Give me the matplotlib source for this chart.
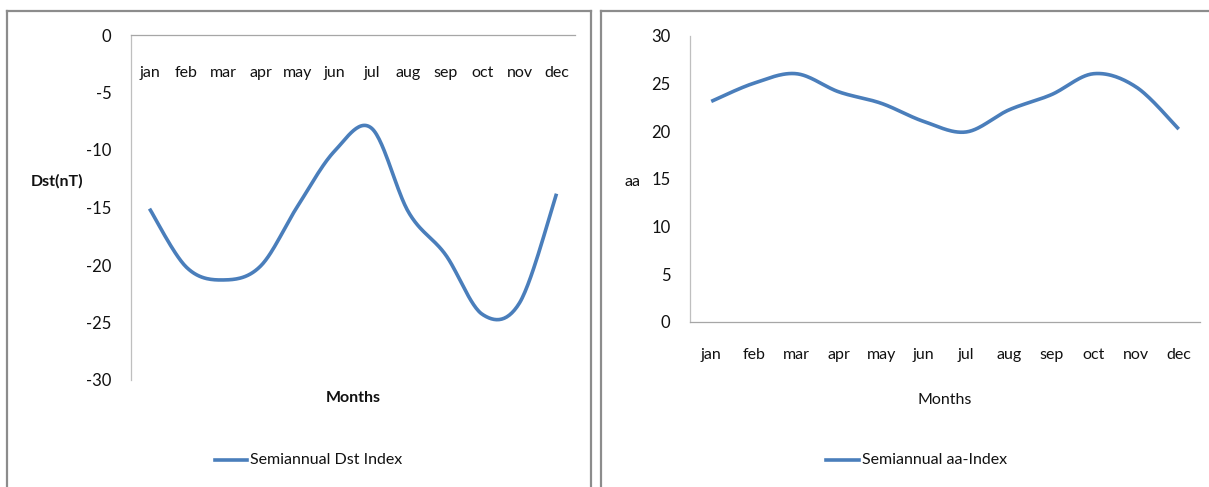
import numpy as np
import matplotlib
matplotlib.use("Agg")
import matplotlib.pyplot as plt
from matplotlib.lines import Line2D

plt.rcParams['font.family'] = ['Lato', 'DejaVu Sans']

months = ["jan", "feb", "mar", "apr", "may", "jun", "jul", "aug", "sep", "oct", "nov", "dec"]
dst_values = [-15.1, -20.2, -21.3, -20.1, -14.9, -10.1, -8.1, -15.4, -19.1, -24.3, -23.3, -13.8]
aa_values = [23.1, 25.0, 26.0, 24.1, 22.9, 21.0, 19.9, 22.2, 23.8, 26.0, 24.6, 20.2]

dst_ticks = [0, -5, -10, -15, -20, -25, -30]
aa_ticks = [0, 5, 10, 15, 20, 25, 30]

LINE_COLOR = "#4a7ebb"
AXIS_COLOR = "#a6a6a6"
FRAME_COLOR = "#8c8c8c"
TEXT_COLOR = "#111111"
FS = 11.5
W, H = 1209, 487


def smooth(xs, ys, n=30):
    """Cubic Bezier smoothing through every point (spreadsheet-style smooth line)."""
    xs = np.asarray(xs, float)
    ys = np.asarray(ys, float)
    px = np.concatenate([[xs[0]], xs, [xs[-1]]])
    py = np.concatenate([[ys[0]], ys, [ys[-1]]])
    out_x, out_y = [], []
    t = np.linspace(0, 1, n)
    for i in range(1, len(px) - 2):
        p0 = np.array([px[i], py[i]])
        p3 = np.array([px[i + 1], py[i + 1]])
        c1 = p0 + (np.array([px[i + 1], py[i + 1]]) - np.array([px[i - 1], py[i - 1]])) / 6
        c2 = p3 - (np.array([px[i + 2], py[i + 2]]) - np.array([px[i], py[i]])) / 6
        b = ((1 - t) ** 3)[:, None] * p0 + (3 * (1 - t) ** 2 * t)[:, None] * c1 \
            + (3 * (1 - t) * t ** 2)[:, None] * c2 + (t ** 3)[:, None] * p3
        out_x.extend(b[:, 0])
        out_y.extend(b[:, 1])
    return np.array(out_x), np.array(out_y)


def fx(px):
    return px / W


def fy(py):
    return 1 - py / H


fig = plt.figure(figsize=(W / 100, H / 100), dpi=100)
fig.patch.set_facecolor("white")

# panel frames
for x0, x1 in [(7, 591), (601, 1212)]:
    fig.add_artist(Line2D([fx(x0), fx(x0)], [fy(11), fy(490)], color=FRAME_COLOR, lw=1.6))
    fig.add_artist(Line2D([fx(x0), fx(x1)], [fy(11), fy(11)], color=FRAME_COLOR, lw=1.6))
    fig.add_artist(Line2D([fx(x1), fx(x1)], [fy(11), fy(490)], color=FRAME_COLOR, lw=1.6))

xpos = np.arange(len(months)) + 0.5

# ---- Dst panel ----
ax1 = fig.add_axes([fx(131), fy(380), (575 - 131) / W, (380 - 35) / H])
sx, sy = smooth(xpos, dst_values)
ax1.plot(sx, sy, color=LINE_COLOR, lw=2.6, solid_capstyle="butt")
ax1.set_xlim(0, 12)
ax1.set_ylim(-30, 0)
ax1.set_yticks(dst_ticks)
ax1.set_yticklabels([str(v) for v in dst_ticks], fontsize=FS + 0.5, color=TEXT_COLOR)
ax1.tick_params(axis="y", length=0, pad=14)
ax1.set_xticks([])
for sp in ["right", "bottom"]:
    ax1.spines[sp].set_visible(False)
ax1.spines["left"].set_color("#bfbfbf")
ax1.spines["top"].set_color(AXIS_COLOR)
ax1.spines["left"].set_linewidth(0.9)
ax1.spines["top"].set_linewidth(0.9)
for xp, m in zip(xpos, months):
    ax1.text(xp, 0.89, m, transform=ax1.get_xaxis_transform(), ha="center", va="center",
             fontsize=FS, color=TEXT_COLOR)
fig.text(fx(57), fy(181), "Dst(nT)", ha="center", va="center", fontsize=FS,
         fontweight="bold", color=TEXT_COLOR)
fig.text(fx(353), fy(398), "Months", ha="center", va="center", fontsize=FS,
         fontweight="bold", color=TEXT_COLOR)
fig.add_artist(Line2D([fx(215), fx(247)], [fy(460), fy(460)], color=LINE_COLOR, lw=2.6))
fig.text(fx(250), fy(460), "Semiannual Dst Index", ha="left", va="center", fontsize=FS,
         color=TEXT_COLOR)

# ---- aa panel ----
ax2 = fig.add_axes([fx(690), fy(322), (1200 - 690) / W, (322 - 35.5) / H])
sx, sy = smooth(xpos, aa_values)
ax2.plot(sx, sy, color=LINE_COLOR, lw=2.6, solid_capstyle="butt")
ax2.set_xlim(0, 12)
ax2.set_ylim(0, 30)
ax2.set_yticks(aa_ticks)
ax2.set_yticklabels([str(v) for v in aa_ticks], fontsize=FS + 0.5, color=TEXT_COLOR)
ax2.tick_params(axis="y", length=0, pad=14)
ax2.set_xticks(xpos)
ax2.set_xticklabels(months, fontsize=FS, color=TEXT_COLOR)
ax2.tick_params(axis="x", length=0, pad=19)
for sp in ["right", "top"]:
    ax2.spines[sp].set_visible(False)
ax2.spines["left"].set_color("#bfbfbf")
ax2.spines["bottom"].set_color(AXIS_COLOR)
ax2.spines["left"].set_linewidth(0.9)
ax2.spines["bottom"].set_linewidth(0.9)
fig.text(fx(633), fy(182), "aa", ha="center", va="center", fontsize=FS, color=TEXT_COLOR)
fig.text(fx(945), fy(400), "Months", ha="center", va="center", fontsize=FS, color=TEXT_COLOR)
fig.add_artist(Line2D([fx(826), fx(859)], [fy(460), fy(460)], color=LINE_COLOR, lw=2.6))
fig.text(fx(862), fy(460), "Semiannual aa-Index", ha="left", va="center", fontsize=FS,
         color=TEXT_COLOR)

fig.savefig("out.png", dpi=100, facecolor="white")
